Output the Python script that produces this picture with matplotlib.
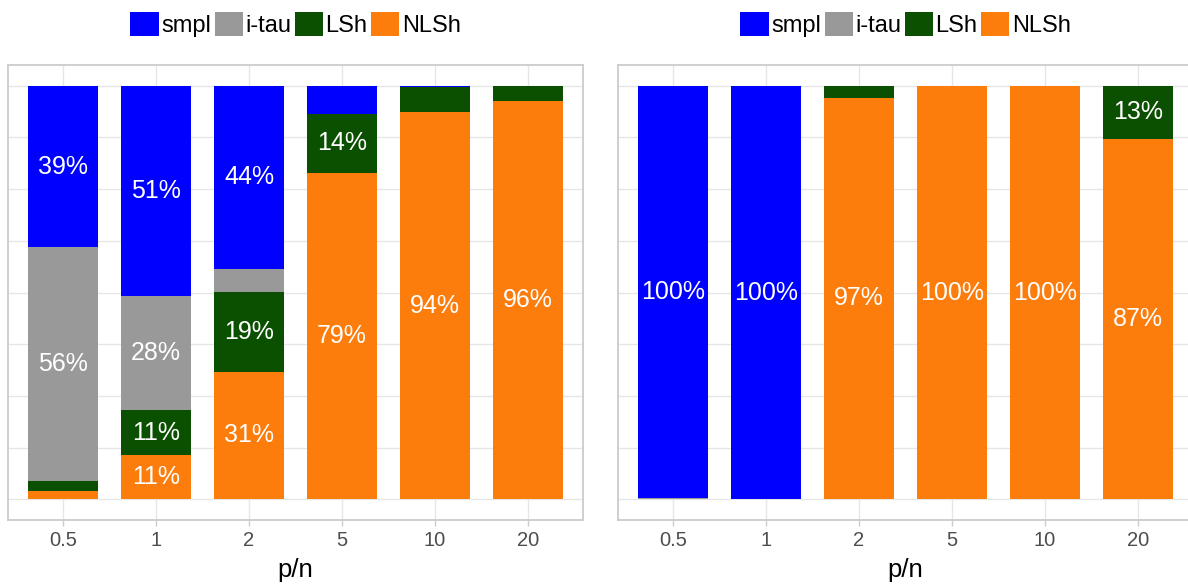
import numpy as np
import matplotlib
matplotlib.use('Agg')
import matplotlib.pyplot as plt
from matplotlib.patches import Patch

plt.rcParams['font.family'] = ['Liberation Sans', 'DejaVu Sans']

cats = ['0.5', '1', '2', '5', '10', '20']
series = ['smpl', 'i-tau', 'LSh', 'NLSh']
colors = {'smpl': '#0000ff', 'i-tau': '#999999', 'LSh': '#0b5000', 'NLSh': '#fc7c0c'}

# left panel (percent)
smpl_a = [39.1, 50.8, 44.3, 6.8, 0.4, 0.0]
itau_a = [56.4, 27.7, 5.5, 0.0, 0.0, 0.0]
lsh_a = [2.4, 10.8, 19.3, 14.3, 6.0, 3.6]
nlsh_a = [2.1, 10.7, 30.9, 78.9, 93.6, 96.4]

# right panel (percent)
smpl_b = [99.7, 100.0, 0.0, 0.0, 0.0, 0.0]
itau_b = [0.3, 0.0, 0.0, 0.0, 0.0, 0.0]
lsh_b = [0.0, 0.0, 2.9, 0.0, 0.0, 12.9]
nlsh_b = [0.0, 0.0, 97.1, 100.0, 100.0, 87.1]


def panel(ax, data):
    x = np.arange(len(cats))
    bottom = np.zeros(len(cats))
    # stack from bottom: NLSh, LSh, i-tau, smpl
    for name in ['NLSh', 'LSh', 'i-tau', 'smpl']:
        vals = np.array(data[name])
        ax.bar(x, vals, 0.75, bottom=bottom, color=colors[name], zorder=2)
        for xi, v, b in zip(x, vals, bottom):
            if v >= 10:
                ax.text(xi, b + v / 2, '%d%%' % round(v), color='white',
                        ha='center', va='center', fontsize=18, zorder=3)
        bottom = bottom + vals

    ax.set_xlim(-0.59, len(cats) - 0.41)
    ax.set_ylim(-5, 105)
    ax.set_xticks(x)
    ax.set_xticklabels(cats)
    ax.set_yticks([0, 25, 50, 75, 100])
    ax.set_yticks([12.5, 37.5, 62.5, 87.5], minor=True)
    ax.tick_params(axis='y', which='both', left=False, labelleft=False)
    ax.tick_params(axis='x', length=4, width=1, color='#cccccc',
                   labelsize=14.5, labelcolor='#4d4d4d', pad=4)
    ax.grid(True, which='both', color='#e6e6e6', linewidth=1, zorder=0)
    ax.set_axisbelow(True)
    for s in ax.spines.values():
        s.set_color('#cccccc')
        s.set_linewidth(1.3)
    ax.set_xlabel('p/n', fontsize=18.5, labelpad=6)

    handles = [Patch(facecolor=colors[n], edgecolor='none') for n in series]
    ax.legend(handles, series, loc='center', bbox_to_anchor=(0.5, 1.09),
              ncol=4, frameon=False, fontsize=17, handlelength=1.2,
              handleheight=1.2, handletextpad=0.1, columnspacing=0.15,
              borderpad=0, borderaxespad=0)


fig = plt.figure(figsize=(11.88, 5.86), dpi=100)
W, H = 1188.0, 586.0
ax1 = fig.add_axes([8 / W, 1 - 520 / H, 575 / W, 455 / H])
ax2 = fig.add_axes([618 / W, 1 - 520 / H, 575 / W, 455 / H])

panel(ax1, {'smpl': smpl_a, 'i-tau': itau_a, 'LSh': lsh_a, 'NLSh': nlsh_a})
panel(ax2, {'smpl': smpl_b, 'i-tau': itau_b, 'LSh': lsh_b, 'NLSh': nlsh_b})

fig.savefig('out.png', dpi=100)
